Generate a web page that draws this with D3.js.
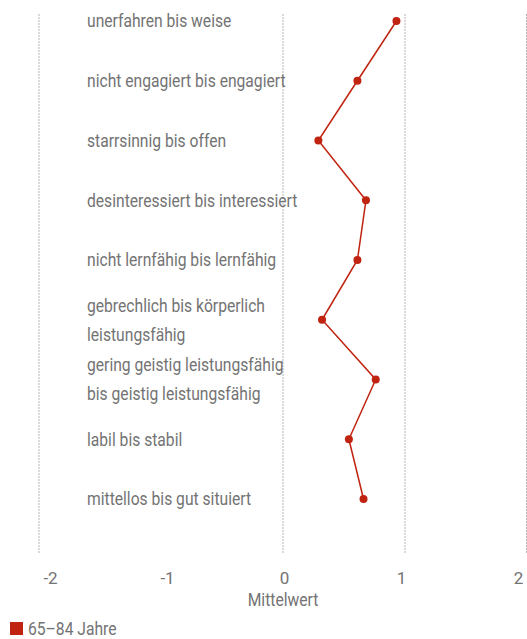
<!DOCTYPE html>
<html>
<head>
<meta charset="utf-8">
<script src="https://cdn.jsdelivr.net/npm/d3@7"></script>
<style>
  body { margin: 0; background: #fff; }
  text { font-family: Roboto, sans-serif; fill: #737373; }
</style>
</head>
<body>
<div id="container"></div>
<script>
// Daten: Selbstbild 65-84 Jahre, Mittelwerte auf einer Skala von -2 bis 2
var categories = [
  "unerfahren bis weise",
  "nicht engagiert bis engagiert",
  "starrsinnig bis offen",
  "desinteressiert bis interessiert",
  "nicht lernfähig bis lernfähig",
  "gebrechlich bis körperlich|leistungsfähig",
  "gering geistig leistungsfähig|bis geistig leistungsfähig",
  "labil bis stabil",
  "mittellos bis gut situiert"
];
var values = [0.93, 0.61, 0.29, 0.68, 0.61, 0.32, 0.76, 0.54, 0.66];
var tickValues = [-2, -1, 0, 1, 2];
var gridValues = [-2, 0, 1, 2];
var seriesName = "65–84 Jahre";
var axisTitle = "Mittelwert";

var W = 527, H = 639;
var red = "#c0230f";
var sx = 0.87; // schmale Schrift nachbilden

var svg = d3.select("#container").append("svg").attr("width", W).attr("height", H);

var x = d3.scaleLinear().domain([-2, 2]).range([39, 527]);
var xLabel = d3.scaleLinear().domain([-2, 2]).range([50, 518]);
var y = d3.scalePoint().domain(categories).range([21, 499]);

// schmaler Text: Gruppe verschieben, dann horizontal stauchen
function narrowText(parent, tx, ty, size, anchor) {
    return parent.append("g")
        .attr("transform", "translate(" + tx + "," + ty + ") scale(" + sx + ",1)")
        .append("text").attr("text-anchor", anchor || "start")
        .style("font-size", size + "px");
}

// Gitterlinien
svg.append("g").selectAll("line").data(gridValues).enter().append("line")
    .attr("x1", function (d) { return Math.min(x(d), W - 0.5); })
    .attr("x2", function (d) { return Math.min(x(d), W - 0.5); })
    .attr("y1", 14).attr("y2", 553)
    .attr("stroke", "#b5b5b5").attr("stroke-width", 1)
    .attr("stroke-dasharray", "2,1");

// Kategorien
var labels = svg.append("g").attr("transform", "translate(87,0) scale(" + sx + ",1)")
    .selectAll("text").data(categories).enter().append("text")
    .attr("x", 0)
    .attr("y", function (d) { return y(d); })
    .style("font-size", "18px");
labels.each(function (d) {
    var parts = d.split("|");
    var t = d3.select(this);
    if (parts.length === 1) {
        t.append("tspan").attr("x", 0).attr("dy", "0.35em").text(parts[0]);
    } else {
        t.append("tspan").attr("x", 0).attr("dy", -8).text(parts[0]);
        t.append("tspan").attr("x", 0).attr("dy", 29).text(parts[1]);
    }
});

// Linie und Punkte
var line = d3.line()
    .x(function (d, i) { return x(d); })
    .y(function (d, i) { return y(categories[i]); });
svg.append("path").datum(values)
    .attr("d", line)
    .attr("fill", "none").attr("stroke", red).attr("stroke-width", 1.5);
svg.append("g").selectAll("circle").data(values).enter().append("circle")
    .attr("cx", function (d) { return x(d); })
    .attr("cy", function (d, i) { return y(categories[i]); })
    .attr("r", 4).attr("fill", red);

// Achse
var axis = d3.axisBottom(xLabel).tickValues(tickValues).tickSize(0).tickFormat(d3.format("d"));
var ax = svg.append("g").attr("transform", "translate(0,572)").call(axis);
ax.select(".domain").remove();
ax.selectAll(".tick text")
    .attr("y", 6).attr("dy", "0.35em")
    .style("font-size", "17px").style("font-family", "Roboto, sans-serif").style("fill", "#737373")
    .text(function (d) { return d < 0 ? "-" + Math.abs(d) : d; });
narrowText(svg, x(0), 606, 18, "middle").text(axisTitle);

// Legende
svg.append("rect").attr("x", 10).attr("y", 622).attr("width", 13).attr("height", 13).attr("fill", red);
narrowText(svg, 28, 635, 18).text(seriesName);
</script>
</body>
</html>
